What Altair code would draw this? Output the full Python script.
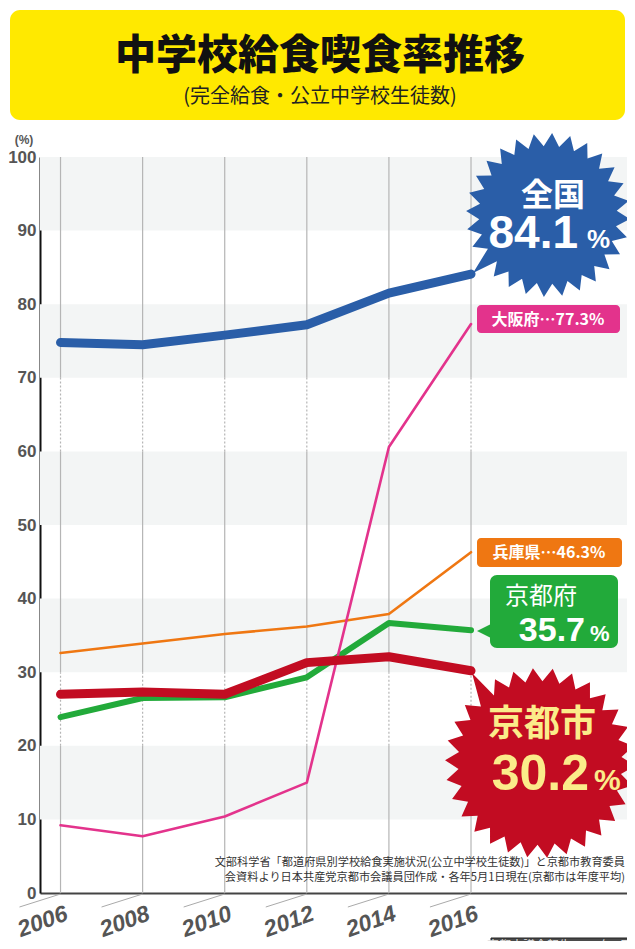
import math
import altair as alt
import pandas as pd

# ---------------- data ----------------
years = [2006, 2008, 2010, 2012, 2014, 2016]
national = [74.8, 74.5, 75.8, 77.2, 81.5, 84.1]
osaka = [9.2, 7.7, 10.4, 15.0, 60.6, 77.3]
hyogo = [32.6, 33.9, 35.2, 36.2, 37.9, 46.3]
kyoto_pref = [23.9, 26.5, 26.6, 29.3, 36.7, 35.7]
kyoto_city = [27.0, 27.3, 27.0, 31.3, 32.1, 30.2]

y_ticks = [0, 10, 20, 30, 40, 50, 60, 70, 80, 90, 100]
band_lo = [10, 30, 50, 70, 90]
band_hi = [20, 40, 60, 80, 100]
solid_lo = [0, 30, 70]
solid_hi = [20, 60, 100]
dash_lo = [20, 60]
dash_hi = [30, 70]

title_text = "中学校給食喫食率推移"
subtitle_text = "(完全給食・公立中学校生徒数)"
note_lines = [
    "文部科学省「都道府県別学校給食実施状況(公立中学校生徒数)」と京都市教育委員",
    "会資料より日本共産党京都市会議員団作成・各年5月1日現在(京都市は年度平均)",
]
footer_text = "京都市議会報告 2018年5月"

# ---------------- layout ----------------
W, H = 587, 736
PAD = {"left": 32, "top": 149, "right": 0, "bottom": 48}
FONT = "Noto Sans CJK JP"
NUMFONT = "Liberation Sans"

xs = alt.Scale(domain=[2005.5, 2019.8], nice=False, zero=False)
ys = alt.Scale(domain=[0, 100], nice=False, zero=True)

AX_X = alt.Axis(values=years, title=None, grid=False, ticks=False, labels=False,
                domainColor="#444444", domainWidth=2)
AX_Y = alt.Axis(values=y_ticks, title=None, grid=False, ticks=False,
                domainColor="#111111", domainWidth=2,
                labelFont=NUMFONT, labelFontSize=17, labelFontWeight="bold",
                labelColor="#555555", labelPadding=4)

BLUE = "#2a5ea8"
PINK = "#e3338c"
ORANGE = "#ef7712"
GREEN = "#22aa3a"
RED = "#c20c22"

def X(f):
    return alt.X(f, scale=xs, axis=AX_X)

def Y(f):
    return alt.Y(f, scale=ys, axis=AX_Y)

# ---------------- background bands and grid ----------------
bands = alt.Chart(pd.DataFrame({"lo": band_lo, "hi": band_hi})).mark_rect(color="#f3f5f5").encode(
    x=alt.value(0), x2=alt.value(W),
    y=Y("lo:Q"), y2="hi:Q",
)

grid_rows = []
for yr in years:
    for a, b in zip(solid_lo, solid_hi):
        grid_rows.append({"year": yr, "lo": a, "hi": b, "kind": "solid"})
    for a, b in zip(dash_lo, dash_hi):
        grid_rows.append({"year": yr, "lo": a, "hi": b, "kind": "dash"})
grid_df = pd.DataFrame(grid_rows)

grid_solid = alt.Chart(grid_df).transform_filter("datum.kind == 'solid'").mark_rule(
    color="#b5b5b5", strokeWidth=1.2
).encode(x=X("year:Q"), y=Y("lo:Q"), y2="hi:Q")

grid_dash = alt.Chart(grid_df).transform_filter("datum.kind == 'dash'").mark_rule(
    color="#b5b5b5", strokeWidth=1.2, strokeDash=[2, 2]
).encode(x=X("year:Q"), y=Y("lo:Q"), y2="hi:Q")

# diagonal lines under year labels
diag = alt.Chart(pd.DataFrame({"year": years})).transform_calculate(
    x0="datum.year - 1.0"
).mark_rule(color="#aaaaaa", strokeWidth=1).encode(
    x=X("year:Q"), x2="x0:Q",
    y=alt.value(H + 1), y2=alt.value(H + 14),
)

# year labels (text marks, rotated)
year_labels = alt.Chart(pd.DataFrame({"year": years})).transform_calculate(
    lab="'' + datum.year"
).mark_text(
    font=NUMFONT, fontSize=23, fontWeight="bold", fontStyle="italic", color="#555555",
    align="right", baseline="top", angle=340, dx=-1, dy=10,
).encode(x=X("year:Q"), y=alt.value(H), text="lab:N")

# ---------------- series lines ----------------
def series_df(name, vals):
    return pd.DataFrame({"year": years, "value": vals, "series": name})

def line(vals, name, color, width):
    return alt.Chart(series_df(name, vals)).mark_line(
        color=color, strokeWidth=width, strokeCap="round", strokeJoin="round"
    ).encode(x=X("year:Q"), y=Y("value:Q"))

l_orange = line(hyogo, "兵庫県", ORANGE, 2.6)
l_blue = line(national, "全国", BLUE, 9)
l_green = line(kyoto_pref, "京都府", GREEN, 6)
l_pink = line(osaka, "大阪府", PINK, 2.6)
l_red = line(kyoto_city, "京都市", RED, 9)

# ---------------- starburst shapes ----------------
def star_path(n, inner, tail_dx, tail_dy, R, rot=0.0):
    pts = []
    tail_ang = math.atan2(tail_dy, tail_dx)
    best, bestd = 0, 10
    for i in range(n):
        a = rot + 2 * math.pi * i / n
        d = abs(math.atan2(math.sin(a - tail_ang), math.cos(a - tail_ang)))
        if d < bestd:
            best, bestd = i, d
    for i in range(n):
        a = rot + 2 * math.pi * i / n
        if i == best:
            pts.append((tail_dx / R, tail_dy / R))
        else:
            pts.append((math.cos(a), math.sin(a)))
        a2 = a + math.pi / n
        pts.append((inner * math.cos(a2), inner * math.sin(a2)))
    s = "M" + " L".join(f"{x:.4f},{y:.4f}" for x, y in pts) + " Z"
    return s

blue_R = 82
blue_cx, blue_cy = 508, 58
blue_star = alt.Chart(pd.DataFrame({"a": [0]})).mark_point(
    shape=star_path(28, 0.84, 433 - blue_cx, 116 - blue_cy, blue_R, rot=0.05),
    filled=True, color=BLUE, opacity=1, size=(2 * blue_R) ** 2, strokeWidth=0,
).encode(x=alt.value(blue_cx), y=alt.value(blue_cy))

red_R = 95
red_cx, red_cy = 500, 606
red_star = alt.Chart(pd.DataFrame({"a": [0]})).mark_point(
    shape=star_path(30, 0.86, 432 - red_cx, 516 - red_cy, red_R, rot=0.03),
    filled=True, color=RED, opacity=1, size=(2 * red_R) ** 2, strokeWidth=0,
).encode(x=alt.value(red_cx), y=alt.value(red_cy))

# ---------------- helpers for text / boxes ----------------
def txt(s, x, y, size, color, weight="bold", align="center", baseline="middle", font=FONT):
    return alt.Chart(pd.DataFrame({"t": [s]})).mark_text(
        font=font, fontSize=size, fontWeight=weight, color=color, align=align, baseline=baseline
    ).encode(x=alt.value(x), y=alt.value(y), text="t:N")

def box(x1, y1, x2, y2, color, r=5, stroke=None):
    kw = dict(color=color, cornerRadius=r)
    if stroke:
        kw.update(stroke=stroke, strokeWidth=1)
    return alt.Chart(pd.DataFrame({"a": [0]})).mark_rect(**kw).encode(
        x=alt.value(x1), x2=alt.value(x2), y=alt.value(y1), y2=alt.value(y2)
    )

# title block
title_box = box(-30, -147, 585, -37, "#ffe900", r=10)
title_t = txt(title_text, 280, -100, 41, "#111111", weight=900)
subtitle_t = txt(subtitle_text, 280, -60, 20, "#222222", weight="normal")
pct_t = txt("(%)", -16, -17, 12, "#555555", font=NUMFONT)

# national callout text
nat_1 = txt("全国", 513, 39, 32, "white")
nat_2 = txt("84.1", 538, 91, 46, "white", align="right", baseline="alphabetic", font=NUMFONT)
nat_3 = txt("%", 547, 91, 26, "white", align="left", baseline="alphabetic", font=NUMFONT)

# osaka label
osa_box = box(437, 148, 580, 176, PINK, r=4)
osa_t = txt("大阪府…77.3%", 508, 163, 16, "white")

# hyogo label
hyo_box = box(437, 381, 582, 410, ORANGE, r=4)
hyo_t = txt("兵庫県…46.3%", 509, 396, 16, "white")

# kyoto pref callout
kp_box = box(450, 418, 578, 491, GREEN, r=7)
kp_tri = alt.Chart(pd.DataFrame({"a": [0]})).mark_point(
    shape="M-1,0 L1,-1 L1,1 Z", filled=True, color=GREEN, opacity=1, size=28 ** 2, strokeWidth=0
).encode(x=alt.value(451), y=alt.value(474))
kp_1 = txt("京都府", 501, 440, 24, "white", weight="normal")
kp_2 = txt("35.7", 545, 484, 34, "white", align="right", baseline="alphabetic", font=NUMFONT)
kp_3 = txt("%", 550, 484, 22, "white", align="left", baseline="alphabetic", font=NUMFONT)

# kyoto city callout
YEL = "#fbec8a"
kc_1 = txt("京都市", 502, 568, 36, YEL)
kc_2 = txt("30.2", 549, 633, 50, YEL, align="right", baseline="alphabetic", font=NUMFONT)
kc_3 = txt("%", 554, 633, 30, YEL, align="left", baseline="alphabetic", font=NUMFONT)

# source note
note_1 = txt(note_lines[0], 585, 706, 11.2, "#333333", weight="normal", align="right")
note_2 = txt(note_lines[1], 585, 721, 11.2, "#333333", weight="normal", align="right")

# footer
foot_box = box(451, 781, 593, 800, "#4a4a4a", r=0, stroke="#222222")
foot_t = txt(footer_text, 519, 789, 12, "#dddddd", weight="normal")

chart = alt.layer(
    title_box, title_t, subtitle_t,
    bands, grid_solid, grid_dash, diag, year_labels, pct_t,
    l_orange, l_blue, l_green, l_pink, l_red,
    blue_star, nat_1, nat_2, nat_3,
    osa_box, osa_t, hyo_box, hyo_t,
    kp_tri, kp_box, kp_1, kp_2, kp_3,
    red_star, kc_1, kc_2, kc_3,
    note_1, note_2, foot_box, foot_t,
).properties(
    width=W, height=H,
    autosize=alt.AutoSizeParams(type="none"),
    padding=PAD,
    background="white",
).configure_view(stroke=None)

chart.save("out.html", embed_options={"renderer": "svg", "actions": False})
